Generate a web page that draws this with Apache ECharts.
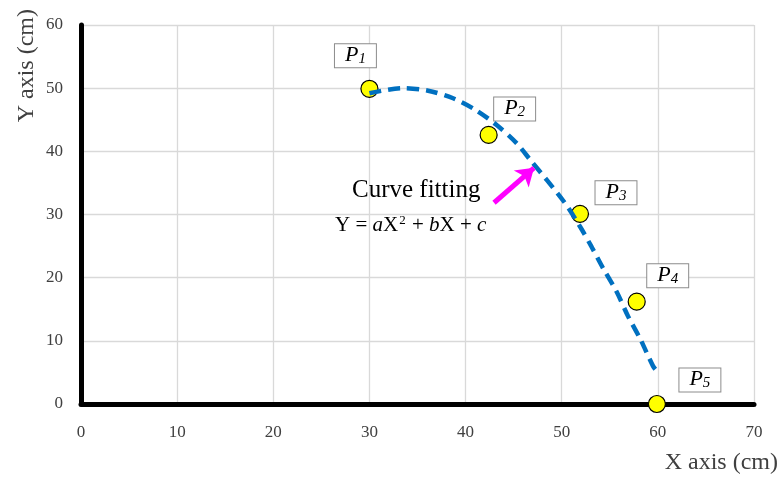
<!DOCTYPE html>
<html>
<head>
<meta charset="utf-8">
<script src="https://cdn.jsdelivr.net/npm/echarts@6/dist/echarts.min.js"></script>
<style>html,body{margin:0;padding:0;background:#fff}#c{width:783px;height:480px}</style>
</head>
<body>
<div id="c"></div>
<script>
// Measured points P1..P5
const pointX = [30.0, 42.4, 51.9, 57.8, 59.9];
const pointY = [49.9, 42.6, 30.1, 16.2, 0.0];
const pointSubs = ['1', '2', '3', '4', '5'];
// Fitted curve
const curveX = [30.0, 33.4, 36.1, 38.7, 41.0, 43.2, 45.3, 46.7, 50.2, 51.9, 53.1, 54.3, 55.7, 56.9, 58.2, 59.5, 59.9];
const curveY = [49.2, 50.0, 49.6, 48.4, 46.6, 44.2, 41.3, 38.7, 32.1, 28.1, 24.9, 21.5, 17.8, 13.9, 10.2, 6.0, 5.2];
// Annotation arrow (data coords)
const arrowFrom = [42.96, 31.86];
const arrowTo = [47.12, 37.4];
const xTicks = [0, 70, 10];
const yTicks = [0, 60, 10];

const labelOffsets = [[-14, -33], [26, -26], [36, -21], [31, -26], [43, -24]];
const FONT = 'Liberation Serif';

const chart = echarts.init(document.getElementById('c'), null, {renderer: 'canvas'});
const scatterData = pointX.map((x, i) => ({
  value: [x, pointY[i]],
  sub: pointSubs[i],
  label: {offset: labelOffsets[i]}
}));
const option = {
  animation: false,
  backgroundColor: '#fff',
  grid: {left: 81, right: 29, top: 25, bottom: 76},
  xAxis: {
    type: 'value', min: xTicks[0], max: xTicks[1], interval: xTicks[2],
    axisLine: {show: true, onZero: false, lineStyle: {color: '#000', width: 5}},
    axisTick: {show: false},
    splitLine: {show: true, lineStyle: {color: '#d9d9d9', width: 1.3}},
    axisLabel: {margin: 20, fontFamily: FONT, fontSize: 17, color: '#404040'},
    name: 'X axis (cm)', nameLocation: 'end', nameGap: 24,
    nameTextStyle: {fontFamily: FONT, fontSize: 24, color: '#404040', align: 'right', verticalAlign: 'top', padding: [47, 0, 0, 0]}
  },
  yAxis: {
    type: 'value', min: yTicks[0], max: yTicks[1], interval: yTicks[2],
    axisLine: {show: true, onZero: false, lineStyle: {color: '#000', width: 5}},
    axisTick: {show: false},
    splitLine: {show: true, lineStyle: {color: '#d9d9d9', width: 1.3}},
    axisLabel: {margin: 18, fontFamily: FONT, fontSize: 17, color: '#404040'}
  },
  graphic: [
    {type: 'text', left: 15, top: 9, rotation: Math.PI / 2, z: 10,
     style: {text: 'Y axis (cm)', font: '24px "Liberation Serif"', fill: '#404040'}},
    {type: 'text', x: 352, y: 190, z: 10,
     style: {text: 'Curve fitting', font: '25px "Liberation Serif"', fill: '#000', verticalAlign: 'middle'}},
    {type: 'text', x: 335, y: 225, z: 10,
     style: {
       text: '{n|Y = }{i|a}{n|X}{sup|2}{n| + }{i|b}{n|X + }{i|c}',
       verticalAlign: 'middle',
       rich: {
         n: {font: '21px "Liberation Serif"', fill: '#000'},
         i: {font: 'italic 21px "Liberation Serif"', fill: '#000'},
         sup: {font: '13px "Liberation Serif"', fill: '#000', verticalAlign: 'top', padding: [0, 1, 7, 1]}
       }
     }}
  ],
  series: [
    {
      type: 'scatter', z: 2,
      data: scatterData,
      symbol: 'circle', symbolSize: 17,
      itemStyle: {color: '#FFFF00', borderColor: '#000', borderWidth: 1.2, opacity: 1},
      label: {
        show: true, position: 'inside',
        formatter: p => '{p|P}{s|' + p.data.sub + '}',
        backgroundColor: '#fff', borderColor: '#8c8c8c', borderWidth: 1,
        padding: [1, 10, 1, 10],
        rich: {
          p: {fontFamily: FONT, fontStyle: 'italic', fontSize: 22, color: '#000', lineHeight: 21, verticalAlign: 'bottom'},
          s: {fontFamily: FONT, fontStyle: 'italic', fontSize: 15, color: '#000', verticalAlign: 'bottom', lineHeight: 13}
        }
      }
    },
    {
      type: 'line', z: 3,
      data: curveX.map((x, i) => [x, curveY[i]]),
      smooth: 0.3,
      showSymbol: false, symbol: 'none',
      lineStyle: {color: '#0070C0', width: 4.5, type: [12, 7]},
      markLine: {
        silent: true,
        symbol: ['none', 'arrow'], symbolSize: [17, 17],
        lineStyle: {color: '#FF00FF', width: 5, type: 'solid'},
        label: {show: false},
        data: [[{coord: arrowFrom}, {coord: arrowTo}]]
      }
    }
  ]
};
chart.setOption(option);
</script>
</body>
</html>
